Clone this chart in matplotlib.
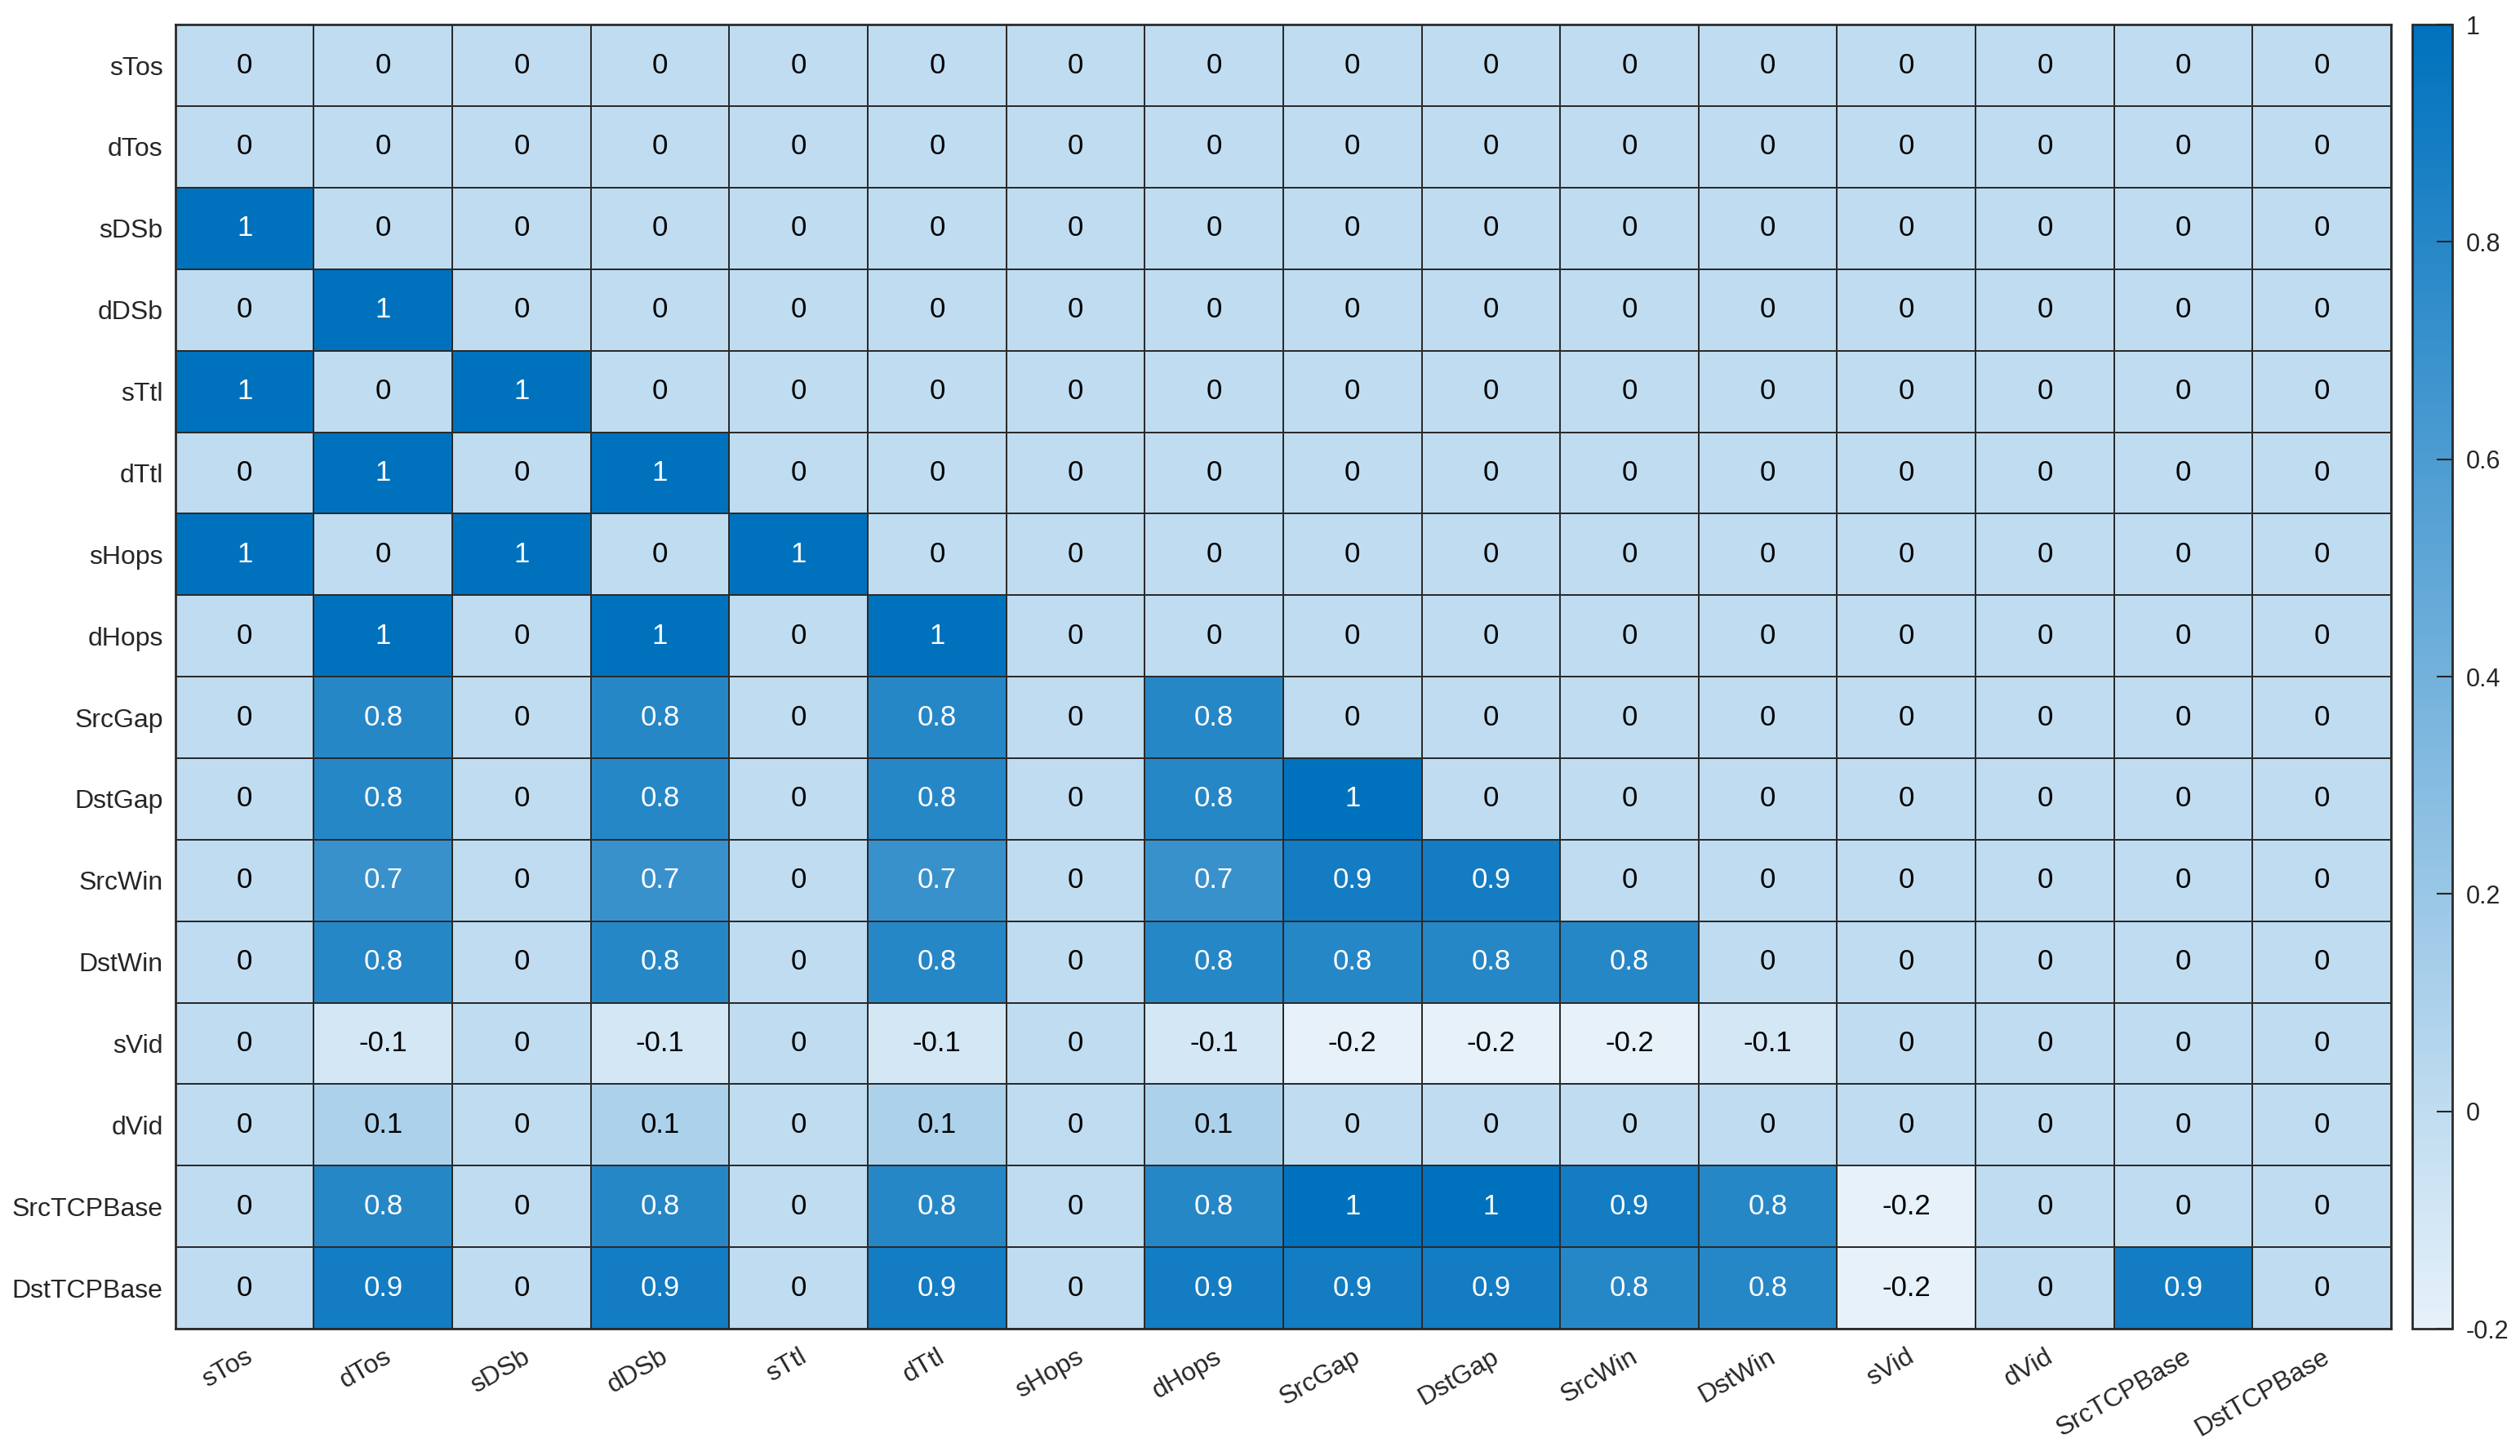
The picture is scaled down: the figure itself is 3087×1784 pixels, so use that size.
"""
Feature correlation heatmap (MATLAB-style look) redrawn with matplotlib.
"""
import numpy as np
import matplotlib
matplotlib.use("Agg")
import matplotlib.pyplot as plt
from matplotlib.colors import LinearSegmentedColormap

# --------------------------------------------------------------------------- #
# Data                                                                        #
# --------------------------------------------------------------------------- #
labels = ["sTos", "dTos", "sDSb", "dDSb", "sTtl", "dTtl", "sHops", "dHops",
          "SrcGap", "DstGap", "SrcWin", "DstWin", "sVid", "dVid",
          "SrcTCPBase", "DstTCPBase"]

row_sTos = [0, 0, 0, 0, 0, 0, 0, 0, 0, 0, 0, 0, 0, 0, 0, 0]
row_dTos = [0, 0, 0, 0, 0, 0, 0, 0, 0, 0, 0, 0, 0, 0, 0, 0]
row_sDSb = [1, 0, 0, 0, 0, 0, 0, 0, 0, 0, 0, 0, 0, 0, 0, 0]
row_dDSb = [0, 1, 0, 0, 0, 0, 0, 0, 0, 0, 0, 0, 0, 0, 0, 0]
row_sTtl = [1, 0, 1, 0, 0, 0, 0, 0, 0, 0, 0, 0, 0, 0, 0, 0]
row_dTtl = [0, 1, 0, 1, 0, 0, 0, 0, 0, 0, 0, 0, 0, 0, 0, 0]
row_sHops = [1, 0, 1, 0, 1, 0, 0, 0, 0, 0, 0, 0, 0, 0, 0, 0]
row_dHops = [0, 1, 0, 1, 0, 1, 0, 0, 0, 0, 0, 0, 0, 0, 0, 0]
row_SrcGap = [0, 0.8, 0, 0.8, 0, 0.8, 0, 0.8, 0, 0, 0, 0, 0, 0, 0, 0]
row_DstGap = [0, 0.8, 0, 0.8, 0, 0.8, 0, 0.8, 1, 0, 0, 0, 0, 0, 0, 0]
row_SrcWin = [0, 0.7, 0, 0.7, 0, 0.7, 0, 0.7, 0.9, 0.9, 0, 0, 0, 0, 0, 0]
row_DstWin = [0, 0.8, 0, 0.8, 0, 0.8, 0, 0.8, 0.8, 0.8, 0.8, 0, 0, 0, 0, 0]
row_sVid = [0, -0.1, 0, -0.1, 0, -0.1, 0, -0.1, -0.2, -0.2, -0.2, -0.1, 0, 0, 0, 0]
row_dVid = [0, 0.1, 0, 0.1, 0, 0.1, 0, 0.1, 0, 0, 0, 0, 0, 0, 0, 0]
row_SrcTCPBase = [0, 0.8, 0, 0.8, 0, 0.8, 0, 0.8, 1, 1, 0.9, 0.8, -0.2, 0, 0, 0]
row_DstTCPBase = [0, 0.9, 0, 0.9, 0, 0.9, 0, 0.9, 0.9, 0.9, 0.8, 0.8, -0.2, 0, 0.9, 0]

corr = np.array([row_sTos, row_dTos, row_sDSb, row_dDSb, row_sTtl, row_dTtl,
                 row_sHops, row_dHops, row_SrcGap, row_DstGap, row_SrcWin,
                 row_DstWin, row_sVid, row_dVid, row_SrcTCPBase,
                 row_DstTCPBase], dtype=float)

VMIN, VMAX = -0.2, 1.0
cbar_ticks = [-0.2, 0, 0.2, 0.4, 0.6, 0.8, 1]

# --------------------------------------------------------------------------- #
# Style                                                                       #
# --------------------------------------------------------------------------- #
plt.rcParams["font.family"] = ["Liberation Sans", "DejaVu Sans"]
TXT = "#262626"
FS_CELL = 25
FS_LAB = 23
FS_CB = 22

sky = LinearSegmentedColormap.from_list("sky", ["#E6F1FA", "#0072BD"])


def fmt(v):
    s = f"{v:.1f}".rstrip("0").rstrip(".")
    return "0" if s in ("-0", "") else s


def main():
    fig = plt.figure(figsize=(30.87, 17.84), dpi=100)
    ax = fig.add_axes([0.0696, 0.0874, 0.8792, 0.8957])
    cax = fig.add_axes([0.9573, 0.0874, 0.0159, 0.8957])

    n = len(labels)
    mesh = ax.pcolormesh(np.arange(n + 1), np.arange(n + 1), corr,
                         cmap=sky, vmin=VMIN, vmax=VMAX,
                         edgecolors="#2a2a2a", linewidth=1.3)
    ax.set_xlim(0, n)
    ax.set_ylim(n, 0)

    for i in range(n):
        for j in range(n):
            v = corr[i, j]
            col = "white" if v >= 0.5 else "black"
            ax.text(j + 0.5, i + 0.5, fmt(v), ha="center", va="center",
                    fontsize=FS_CELL, color=col)

    ax.set_xticks(np.arange(n) + 0.5)
    ax.set_yticks(np.arange(n) + 0.5)
    ax.set_xticklabels(labels, rotation=30, ha="right", va="top",
                       rotation_mode="anchor", fontsize=FS_LAB, color=TXT)
    ax.set_yticklabels(labels, fontsize=FS_LAB, color=TXT)
    ax.tick_params(axis="both", length=0)
    ax.tick_params(axis="x", pad=14)
    ax.tick_params(axis="y", pad=11)
    for sp in ax.spines.values():
        sp.set_color("#2a2a2a")
        sp.set_linewidth(2)

    cb = fig.colorbar(mesh, cax=cax, ticks=cbar_ticks)
    cb.ax.set_yticklabels([fmt(t) for t in cbar_ticks])
    cb.ax.tick_params(direction="in", length=14, width=1.5, color=TXT,
                      labelsize=FS_CB, labelcolor=TXT, pad=12)
    cb.outline.set_edgecolor("#2a2a2a")
    cb.outline.set_linewidth(2)

    fig.savefig("out.png", dpi=100)
    plt.close(fig)


if __name__ == "__main__":
    main()
